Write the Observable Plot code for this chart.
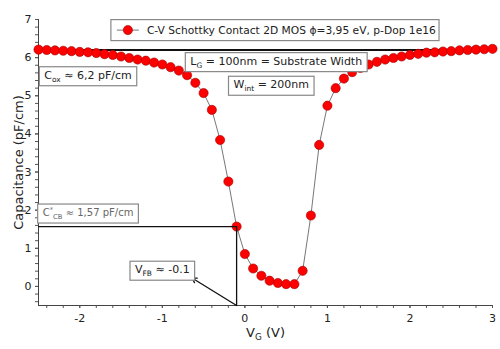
<!DOCTYPE html>
<html><head><meta charset="utf-8">
<script src="https://cdn.jsdelivr.net/npm/d3@7"></script>
<script src="https://cdn.jsdelivr.net/npm/@observablehq/plot@0.6"></script>
<style>body{margin:0;background:#fff} #chart svg{font-family:"DejaVu Sans",sans-serif}</style>
</head><body><div id="chart"></div>
<script>
// Gate voltage (V)
const vg = [-2.5,-2.4,-2.3,-2.2,-2.1,-2.0,-1.9,-1.8,-1.7,-1.6,-1.5,-1.4,-1.3,-1.2,-1.1,-1.0,-0.9,-0.8,-0.7,-0.6,-0.5,-0.4,-0.3,-0.2,-0.1,0.0,0.1,0.2,0.3,0.4,0.5,0.6,0.7,0.8,0.9,1.0,1.1,1.2,1.3,1.4,1.5,1.6,1.7,1.8,1.9,2.0,2.1,2.2,2.3,2.4,2.5,2.6,2.7,2.8,2.9,3.0];
// Capacitance (pF/cm)
const cap = [6.21,6.20,6.19,6.18,6.17,6.15,6.14,6.12,6.09,6.07,6.03,5.99,5.95,5.92,5.87,5.82,5.75,5.66,5.54,5.34,5.07,4.63,3.84,2.75,1.57,0.85,0.47,0.28,0.15,0.09,0.06,0.06,0.41,1.86,3.71,4.74,5.20,5.45,5.62,5.73,5.82,5.89,5.95,5.99,6.03,6.07,6.10,6.13,6.14,6.16,6.17,6.19,6.20,6.21,6.22,6.23];
const seriesName = "C-V Schottky Contact 2D MOS \u03d5=3,95 eV, p-Dop 1e16";
const xTicks = [-2,-1,0,1,2,3];
const yTicks = [0,1,2,3,4,5,6,7];
const cox = 6.2;        // oxide capacitance level
const ccb = 1.57;       // C*_CB
const vfb = -0.1;       // flat-band voltage
// annotation texts and their anchors (data units)
const noteText = ["C_{ox} \u2248 6,2 pF/cm", "L_{G} = 100nm = Substrate Width", "W_{int} = 200nm", "V_{FB} \u2248 -0.1"];
const noteX = [-1.90, 0.38, 0.32, -1.0];
const noteY = [5.54, 5.91, 5.29, 0.44];
const ccbText = "C^{*}_{CB} \u2248 1,57 pF/cm";
const arrowTip = {x: -0.64, y: 0.22};

const data = vg.map((v, i) => ({v, c: cap[i]}));
const notes = noteText.map((t, i) => ({t, x: noteX[i], y: noteY[i]}));
const xMinor = d3.range(-2.4, 3.01, 0.2);
const yMinor = d3.range(-0.4, 7.01, 0.2);

const plot = Plot.plot({
  width: 500, height: 349,
  marginLeft: 38, marginRight: 8, marginTop: 19, marginBottom: 44,
  style: {fontFamily: "DejaVu Sans, sans-serif", fontSize: "11px", color: "#222", background: "#fff"},
  x: {domain: [-2.5, 3]},
  y: {domain: [-0.5, 7]},
  marks: [
    Plot.axisX({ticks: xMinor, tickSize: 3, tickFormat: () => "", label: null, stroke: "#555"}),
    Plot.axisX({ticks: xTicks, tickSize: 3, tickPadding: 6, tickFormat: d => String(d), label: "V_{G} (V)", labelAnchor: "center", labelOffset: 31, labelArrow: "none", stroke: "#555"}),
    Plot.axisY({ticks: yMinor, tickSize: 3, tickFormat: () => "", label: null, stroke: "#555"}),
    Plot.axisY({ticks: yTicks, tickSize: 3, tickPadding: 4, tickFormat: d => String(d), label: "Capacitance (pF/cm)", labelAnchor: "center", labelOffset: 25, labelArrow: "none", stroke: "#555"}),
    Plot.ruleY([-0.5], {stroke: "#444"}),
    Plot.ruleX([-2.5], {stroke: "#444"}),
    Plot.ruleY([cox], {stroke: "#111", strokeWidth: 2}),
    Plot.line(data, {x: "v", y: "c", stroke: "#777", strokeWidth: 1}),
    Plot.dot(data, {x: "v", y: "c", r: 4.6, fill: "#ff0000", stroke: "#a00000", strokeWidth: 0.6}),
    Plot.ruleY([ccb], {x1: -2.5, x2: vfb, stroke: "#111", strokeWidth: 1.3}),
    Plot.ruleX([vfb], {y1: -0.5, y2: ccb, stroke: "#111", strokeWidth: 1.3}),
    Plot.arrow([arrowTip], {x1: vfb, y1: -0.5, x2: "x", y2: "y", stroke: "#111", strokeWidth: 1.3, headLength: 6, bend: 0}),
    Plot.text(notes, {x: "x", y: "y", text: "t", fill: "#222", fontSize: 11, ariaDescription: "notes"}),
    Plot.text([ccbText], {x: -1.90, y: 1.93, text: d => d, fill: "#666", fontSize: 10, ariaDescription: "notes"}),
    Plot.text([seriesName], {x: -1.187, y: 6.72, text: d => d, textAnchor: "start", fill: "#222", fontSize: 10.7, ariaDescription: "legend"})
  ]
});
document.getElementById("chart").append(plot);

// larger axis titles
plot.querySelectorAll('g[aria-label="x-axis label"] text, g[aria-label="y-axis label"] text').forEach(el => {
  el.setAttribute("font-size", "13px"); el.style.fontSize = "13px";
});

const NS = "http://www.w3.org/2000/svg";
function richify(el) {
  const s = el.textContent;
  if (!/[_^]\{/.test(s)) return;
  const fs = parseFloat(getComputedStyle(el).fontSize) || 11;
  el.textContent = "";
  let offset = 0;
  const add = (str, kind) => {
    const t = document.createElementNS(NS, "tspan");
    t.textContent = str;
    let target = 0;
    if (kind === "_") { target = 0.28 * fs; t.setAttribute("font-size", (0.68 * fs) + "px"); }
    if (kind === "^") { target = -0.38 * fs; t.setAttribute("font-size", (0.68 * fs) + "px"); }
    if (target !== offset) { t.setAttribute("dy", (target - offset) + "px"); offset = target; }
    el.appendChild(t);
  };
  const re = /([_^])\{([^}]*)\}/g; let last = 0, m;
  while ((m = re.exec(s))) {
    if (m.index > last) add(s.slice(last, m.index), null);
    add(m[2], m[1]);
    last = re.lastIndex;
  }
  if (last < s.length) add(s.slice(last), null);
}
plot.querySelectorAll("text").forEach(richify);

function mk(tag, attrs, parent, before, tf) {
  const e = document.createElementNS(NS, tag);
  for (const k in attrs) e.setAttribute(k, attrs[k]);
  if (tf) e.setAttribute("transform", tf);
  parent.insertBefore(e, before);
  return e;
}
plot.querySelectorAll('g[aria-description="notes"] text').forEach(el => {
  const b = el.getBBox();
  const tf = el.getAttribute("transform");
  const cy = b.y + b.height / 2;
  mk("rect", {x: b.x - 5, y: cy - 9.5, width: b.width + 10, height: 19, fill: "#fff", stroke: "#888", "stroke-width": 1.2}, el.parentNode, el, tf);
});
plot.querySelectorAll('g[aria-description="legend"] text').forEach(el => {
  const b = el.getBBox();
  const tf = el.getAttribute("transform");
  const g = el.parentNode;
  const cy = b.y + b.height / 2;
  mk("rect", {x: b.x - 36, y: cy - 10.5, width: b.width + 39, height: 21, fill: "#fff", stroke: "#888", "stroke-width": 1.2}, g, el, tf);
  mk("line", {x1: b.x - 30, x2: b.x - 8, y1: cy, y2: cy, stroke: "#777"}, g, el, tf);
  mk("circle", {cx: b.x - 19, cy: cy, r: 4.6, fill: "#ff0000", stroke: "#a00000", "stroke-width": 0.6}, g, el, tf);
});
</script>
</body></html>
